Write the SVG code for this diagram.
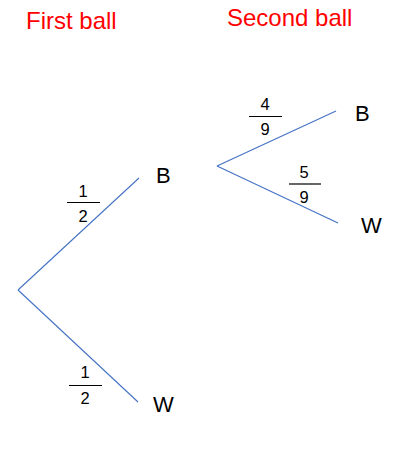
<svg xmlns="http://www.w3.org/2000/svg" width="412" height="459" viewBox="0 0 412 459">
<style>
.title{font-family:"Liberation Sans",Arial,sans-serif;font-size:24px;fill:#FF0000}
.lbl{font-family:"Liberation Sans",Arial,sans-serif;font-size:22px;fill:#000}
.num{font-family:"Liberation Sans",Arial,sans-serif;font-size:16.5px;fill:#000;text-anchor:middle}
.edge{stroke:#4472C4;stroke-width:1.1;fill:none}
.bar{stroke:#000;stroke-width:1.2}
</style>
<rect width="412" height="459" fill="#fff"/>
<text class="title" x="26" y="29">First ball</text>
<text class="title" x="227" y="26">Second ball</text>
<g id="connectors">
<line class="edge" x1="18" y1="290" x2="139" y2="178"/>
<line class="edge" x1="18" y1="290" x2="138" y2="402"/>
<line class="edge" x1="217" y1="166" x2="336" y2="111"/>
<line class="edge" x1="217" y1="166" x2="338" y2="223"/>
</g>
<g id="node-B1"><text class="lbl" x="156" y="183">B</text></g>
<g id="node-W1"><text class="lbl" x="153" y="412">W</text></g>
<g id="node-B2"><text class="lbl" x="355" y="121">B</text></g>
<g id="node-W2"><text class="lbl" x="361" y="233">W</text></g>
<g id="frac-upper-half">
<text class="num" x="83" y="197">1</text>
<line class="bar" x1="67" y1="202.5" x2="100" y2="202.5"/>
<text class="num" x="83" y="222">2</text>
</g>
<g id="frac-lower-half">
<text class="num" x="85" y="378">1</text>
<line class="bar" x1="69" y1="385.5" x2="102" y2="385.5"/>
<text class="num" x="85" y="404">2</text>
</g>
<g id="frac-4-9">
<text class="num" x="265" y="110">4</text>
<line class="bar" x1="249" y1="116.5" x2="282" y2="116.5"/>
<text class="num" x="265" y="135">9</text>
</g>
<g id="frac-5-9">
<text class="num" x="304" y="178">5</text>
<line class="bar" x1="289" y1="184" x2="321" y2="184"/>
<text class="num" x="304" y="203">9</text>
</g>
</svg>
